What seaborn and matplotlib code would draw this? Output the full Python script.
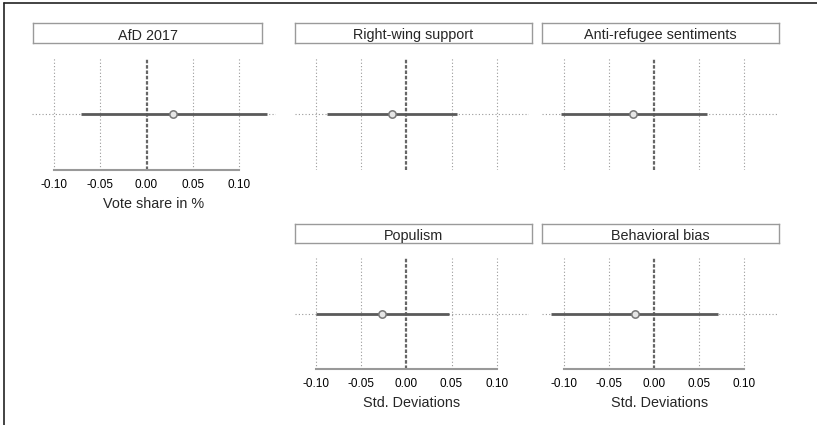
import matplotlib
matplotlib.use("Agg")
import matplotlib.pyplot as plt
from matplotlib.lines import Line2D
import seaborn as sns
import numpy as np

# ---------------------------------------------------------
# data
# ---------------------------------------------------------
PANELS = ["AfD 2017", "Right-wing support", "Anti-refugee sentiments",
          "Populism", "Behavioral bias"]
ESTIMATES = [0.029, -0.016, -0.023, -0.027, -0.021]
CI_LOW = [-0.071, -0.088, -0.103, -0.100, -0.114]
CI_HIGH = [0.130, 0.056, 0.059, 0.047, 0.072]
XLABELS = ["Vote share in %", "", "", "Std. Deviations", "Std. Deviations"]
XTICKS = [-0.10, -0.05, 0.00, 0.05, 0.10]
XTICKLABELS = ["-0.10", "-0.05", "0.00", "0.05", "0.10"]

# ---------------------------------------------------------
# layout (pixel boxes: x0, x1, y_top, y_bottom)
# ---------------------------------------------------------
W, H = 817, 425
AX_BOXES = [(32, 276, 58, 170), (295, 529, 58, 170), (542, 777, 58, 170),
            (295, 529, 258, 369), (542, 777, 258, 369)]
STRIP_BOXES = [(33, 262, 23, 43), (295, 532, 23, 43), (542, 779, 23, 43),
               (295, 532, 224, 243), (542, 779, 224, 243)]
XLIMS = [(-0.1238, 0.1400), (-0.1232, 0.1357), (-0.1241, 0.1370),
         (-0.1232, 0.1357), (-0.1241, 0.1370)]
SHOW_AXIS = [True, False, False, True, True]

sns.set_style("white")
plt.rcParams['font.family'] = ['Liberation Sans', 'DejaVu Sans']
plt.rcParams['axes.unicode_minus'] = False


def px_rect(box):
    x0, x1, yt, yb = box
    return [x0 / W, 1 - yb / H, (x1 - x0) / W, (yb - yt) / H]


fig = plt.figure(figsize=(W / 100, H / 100), dpi=100)

for i, name in enumerate(PANELS):
    ax = fig.add_axes(px_rect(AX_BOXES[i]))
    ax.set_xlim(*XLIMS[i])
    ax.set_ylim(-1, 1)

    # dotted grid
    for t in XTICKS:
        if t != 0:
            ax.axvline(t, color='#9a9a9a', lw=0.8, ls=(0, (1, 2)), zorder=1)
    ax.axhline(0, color='#9a9a9a', lw=0.8, ls=(0, (1, 2)), zorder=1)

    # zero reference line
    ax.axvline(0, color='#666666', lw=1.6, ls=(0, (1.6, 0.8)), zorder=2)

    # confidence interval and point estimate
    ax.hlines(0, CI_LOW[i], CI_HIGH[i], color='#5a5a5a', lw=2, zorder=3)
    sns.scatterplot(x=[ESTIMATES[i]], y=[0], ax=ax, s=28, marker='o',
                    facecolor='#e6e6e6', edgecolor='#777777', linewidth=1.1,
                    zorder=4, legend=False)

    for s in ['top', 'right', 'left']:
        ax.spines[s].set_visible(False)
    ax.set_yticks([])
    ax.set_ylabel('')
    if SHOW_AXIS[i]:
        ax.spines['bottom'].set_color('#999999')
        ax.spines['bottom'].set_linewidth(1.5)
        ax.spines['bottom'].set_bounds(-0.10, 0.10)
        ax.set_xticks(XTICKS)
        ax.set_xticklabels(XTICKLABELS, fontsize=8.5)
        ax.tick_params(axis='x', direction='out', length=3.6, width=1.1,
                       color='#999999', pad=3, labelcolor='black')
        ax.set_xlabel(XLABELS[i], fontsize=10.4, labelpad=4)
    else:
        ax.spines['bottom'].set_visible(False)
        ax.set_xticks([])
        ax.set_xlabel('')

    # strip title box
    sax = fig.add_axes(px_rect(STRIP_BOXES[i]))
    sax.set_xticks([])
    sax.set_yticks([])
    for s in sax.spines.values():
        s.set_color('#9a9a9a')
        s.set_linewidth(1.0)
        s.set_visible(True)
    sax.text(0.5, 0.45, name, ha='center', va='center_baseline', fontsize=10.4,
             transform=sax.transAxes)

# frame lines (left and top)
fig.add_artist(Line2D([4 / W, 4 / W], [0, 1 - 3 / H], color='#222222', lw=1.2))
fig.add_artist(Line2D([4 / W, 1], [1 - 3 / H, 1 - 3 / H], color='#222222', lw=1.2))

fig.savefig('out.png', dpi=100)
